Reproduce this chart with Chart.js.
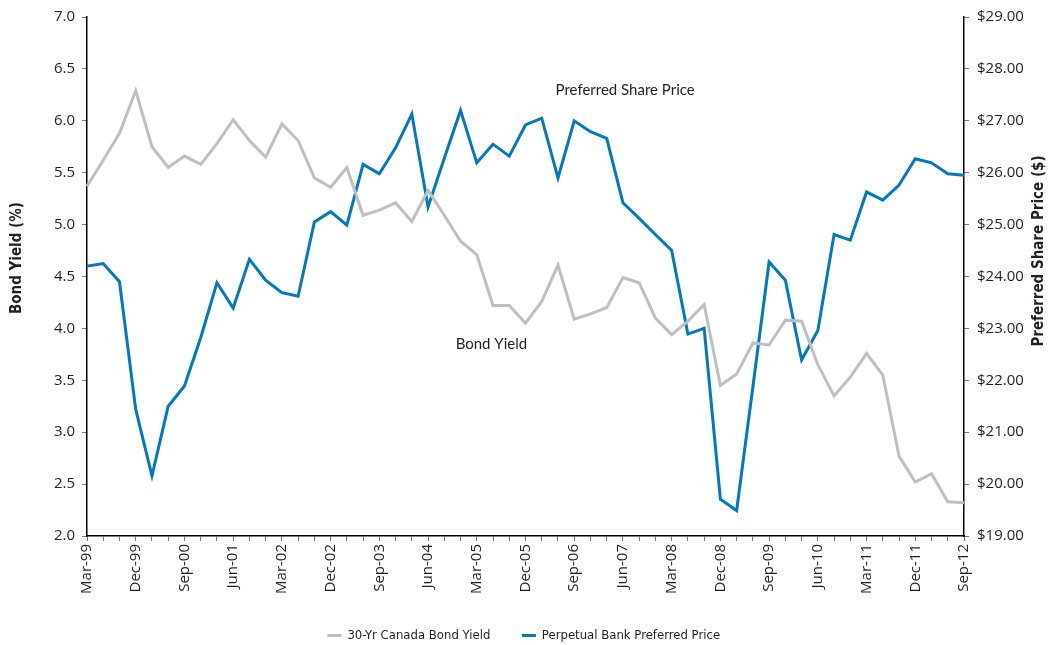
<!DOCTYPE html>
<html>
<head>
<meta charset="utf-8">
<script src="https://cdn.jsdelivr.net/npm/chart.js@4.4.1/dist/chart.umd.min.js"></script>
<style>
  html, body { margin: 0; padding: 0; background: #fff; }
  #wrap { width: 1048px; height: 645px; }
</style>
</head>
<body>
<div id="wrap"><canvas id="chart" width="1048" height="645"></canvas></div>
<script>
// ===== DATA =====
const quarters = [
  "Mar-99","Jun-99","Sep-99","Dec-99","Mar-00","Jun-00","Sep-00","Dec-00","Mar-01","Jun-01",
  "Sep-01","Dec-01","Mar-02","Jun-02","Sep-02","Dec-02","Mar-03","Jun-03","Sep-03","Dec-03",
  "Mar-04","Jun-04","Sep-04","Dec-04","Mar-05","Jun-05","Sep-05","Dec-05","Mar-06","Jun-06",
  "Sep-06","Dec-06","Mar-07","Jun-07","Sep-07","Dec-07","Mar-08","Jun-08","Sep-08","Dec-08",
  "Mar-09","Jun-09","Sep-09","Dec-09","Mar-10","Jun-10","Sep-10","Dec-10","Mar-11","Jun-11",
  "Sep-11","Dec-11","Mar-12","Jun-12","Sep-12"
];

// 30-Yr Canada bond yield (%)
const bondYield = [
  5.37, 5.62, 5.88, 6.29, 5.75, 5.55, 5.66, 5.58, 5.78, 6.01,
  5.81, 5.65, 5.97, 5.81, 5.45, 5.36, 5.55, 5.09, 5.14, 5.21,
  5.03, 5.33, 5.09, 4.84, 4.71, 4.22, 4.22, 4.05, 4.26, 4.61,
  4.09, 4.14, 4.20, 4.49, 4.44, 4.10, 3.94, 4.07, 4.23, 3.45,
  3.56, 3.86, 3.84, 4.08, 4.07, 3.65, 3.35, 3.53, 3.76, 3.55,
  2.77, 2.52, 2.60, 2.33, 2.32
];

// Perpetual bank preferred price ($)
const prefPrice = [
  24.20, 24.25, 23.90, 21.44, 20.16, 21.50, 21.89, 22.82, 23.88, 23.39,
  24.33, 23.93, 23.69, 23.62, 25.05, 25.25, 24.99, 26.16, 25.98, 26.48,
  27.13, 25.34, 26.28, 27.20, 26.19, 26.55, 26.32, 26.92, 27.05, 25.90,
  27.00, 26.79, 26.66, 25.42, 25.12, 24.81, 24.50, 22.89, 23.00, 19.71,
  19.49, 21.87, 24.28, 23.93, 22.39, 22.96, 24.81, 24.70, 25.63, 25.47,
  25.76, 26.27, 26.19, 25.98, 25.95
];

const GRAY = "#bfbfbf";
const BLUE = "#0079c1";
const TEXT = "#231f20";

// ===== TEXT LABELS ON THE CHART + AXIS TITLES =====
const notesPlugin = {
  id: "notes",
  afterDraw(chart) {
    const ctx = chart.ctx;
    const x = chart.scales.x;
    const y = chart.scales.y;
    const y1 = chart.scales.y1;
    ctx.save();
    ctx.fillStyle = TEXT;
    ctx.font = "15px Lato";
    ctx.textAlign = "left";
    ctx.textBaseline = "middle";
    ctx.fillText("Preferred Share Price", x.getPixelForValue(28.85), y1.getPixelForValue(27.6));
    ctx.fillText("Bond Yield", x.getPixelForValue(22.7), y.getPixelForValue(3.85));

    // both axis titles read bottom-to-top
    ctx.font = "bold 15px 'DejaVu Sans Condensed', 'DejaVu Sans'";
    ctx.textAlign = "center";
    ctx.save();
    ctx.translate(17, 258);
    ctx.rotate(-Math.PI / 2);
    ctx.fillText("Bond Yield (%)", 0, 0);
    ctx.restore();

    ctx.translate(1039, 251);
    ctx.rotate(-Math.PI / 2);
    ctx.fillText("Preferred Share Price ($)", 0, 0);
    ctx.restore();
  }
};

const ctx = document.getElementById("chart").getContext("2d");

new Chart(ctx, {
  type: "line",
  data: {
    labels: quarters,
    datasets: [
      {
        label: "30-Yr Canada Bond Yield",
        data: bondYield,
        yAxisID: "y",
        borderColor: GRAY,
        backgroundColor: GRAY,
        borderWidth: 3,
        pointRadius: 0,
        tension: 0
      },
      {
        label: "Perpetual Bank Preferred Price",
        data: prefPrice,
        yAxisID: "y1",
        borderColor: BLUE,
        backgroundColor: BLUE,
        borderWidth: 3,
        pointRadius: 0,
        tension: 0
      }
    ]
  },
  options: {
    responsive: false,
    animation: false,
    layout: { padding: { top: 7, left: 0, right: 0, bottom: -7 } },
    plugins: {
      tooltip: { enabled: false },
      legend: {
        position: "bottom",
        labels: {
          usePointStyle: true,
          pointStyle: "line",
          boxWidth: 30,
          boxHeight: 10,
          padding: 32,
          color: TEXT,
          font: { family: "'DejaVu Sans Condensed', 'DejaVu Sans'", size: 13 }
        }
      }
    },
    scales: {
      x: {
        grid: { drawOnChartArea: false, tickLength: 5, color: "#777", offset: false },
        border: { color: "#000", width: 1.5 },
        offset: false,
        ticks: {
          autoSkip: false,
          maxRotation: 90,
          minRotation: 90,
          padding: 3,
          color: TEXT,
          font: { family: "'Open Sans'", size: 15 },
          callback: (v, i) => (i % 3 === 0 ? quarters[i] : "")
        },
        afterFit: (s) => { s.height = 61; }
      },
      y: {
        position: "left",
        min: 2,
        max: 7,
        grid: { drawOnChartArea: false, tickLength: 5, color: "#777" },
        border: { color: "#000", width: 1.5 },
        ticks: {
          stepSize: 0.5,
          padding: 7,
          color: TEXT,
          font: { family: "'Open Sans'", size: 15 },
          callback: (v) => v.toFixed(1)
        },
        afterFit: (s) => { s.width = 87; }
      },
      y1: {
        position: "right",
        min: 19,
        max: 29,
        grid: { drawOnChartArea: false, tickLength: 5, color: "#777" },
        border: { color: "#000", width: 1.5 },
        ticks: {
          stepSize: 1,
          padding: 8,
          color: TEXT,
          font: { family: "'Open Sans'", size: 15 },
          callback: (v) => "$" + v.toFixed(2)
        },
        afterFit: (s) => { s.width = 84; }
      }
    }
  },
  plugins: [notesPlugin]
});
</script>
</body>
</html>
